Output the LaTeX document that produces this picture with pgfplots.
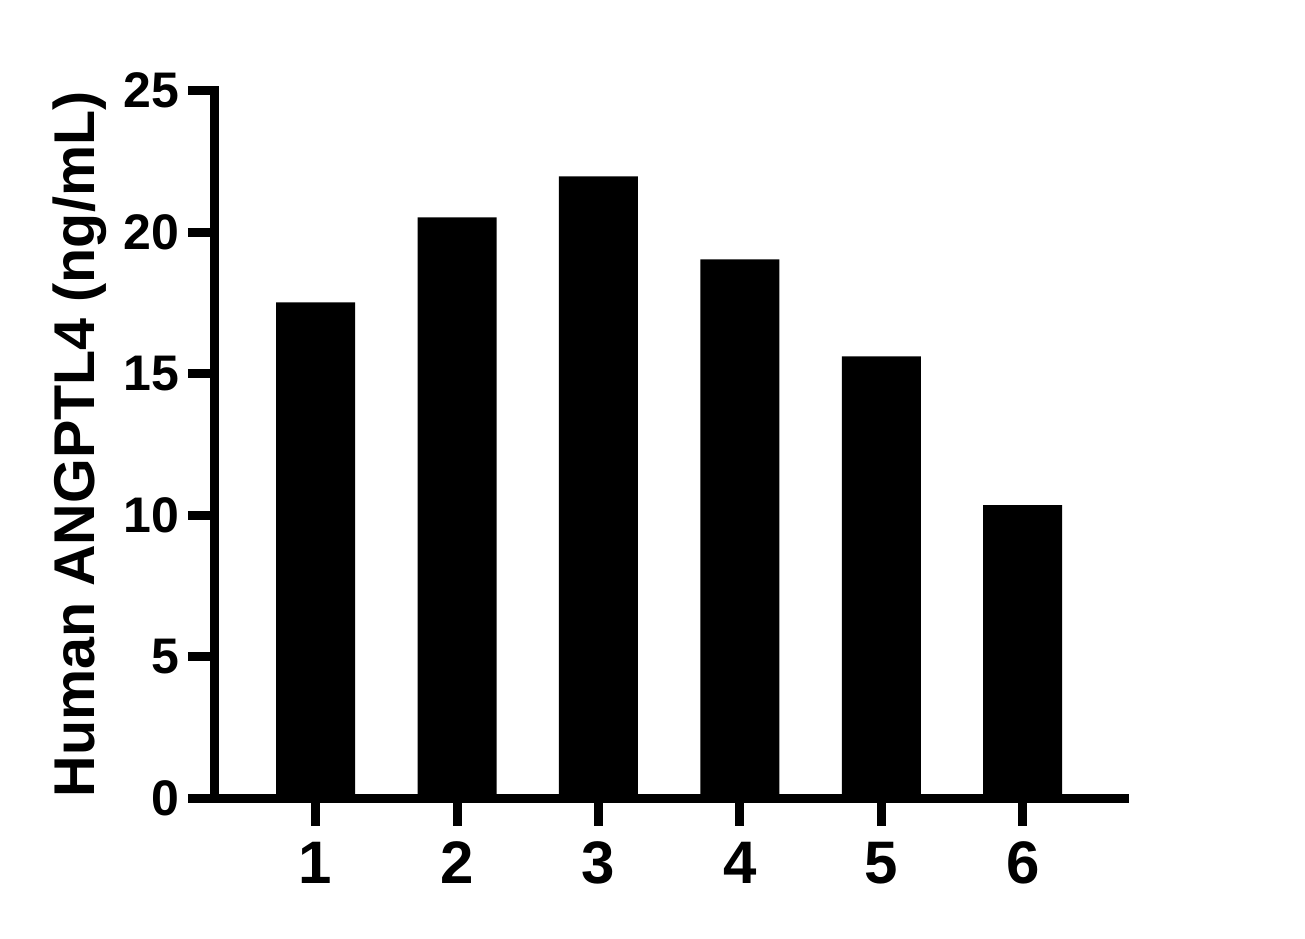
\documentclass[border=0pt]{standalone}
\usepackage{fontspec}
\setmainfont{Liberation Sans}
\usepackage{pgfplots}
\pgfplotsset{compat=1.18}
\begin{document}
\begin{tikzpicture}
  % bounding box matching the reference (1px = 0.5pt), axis origin at pixel (215,798.5)
  \useasboundingbox (-107.5pt,-69.75pt) rectangle (545pt,399.25pt);
  \begin{axis}[
      at={(0,0)}, anchor=south west,
      scale only axis,
      width=454.75pt, height=354pt,
      xmin=0.288, xmax=6.72,
      ymin=0, ymax=25,
      axis lines=left,
      axis line style={-, line width=4.5pt, line cap=rect},
      tick align=outside,
      major tick length=13.5pt,
      tick style={line width=4.5pt, black},
      xtick={1,2,3,4,5,6},
      ytick={0,5,10,15,20,25},
      /pgf/number format/assume math mode=true,
      xticklabel style={font=\fontsize{30}{36}\selectfont\bfseries, inner sep=0pt, anchor=north, yshift=-8pt},
      yticklabel style={font=\fontsize{25}{30}\selectfont\bfseries, inner sep=0pt, anchor=east, xshift=-4pt},
      ylabel={Human ANGPTL4 (ng/mL)},
      ylabel style={font=\fontsize{28.75}{34}\selectfont\bfseries, inner sep=0pt,
                    at={(axis description cs:-0.179,0.5)}, anchor=north, rotate=0},
      clip=false,
    ]
    \addplot[ybar, bar width=39.5pt, fill=black, draw=none]
      coordinates {(1,17.52) (2,20.52) (3,21.97) (4,19.04) (5,15.61) (6,10.36)};
  \end{axis}
\end{tikzpicture}
\end{document}
